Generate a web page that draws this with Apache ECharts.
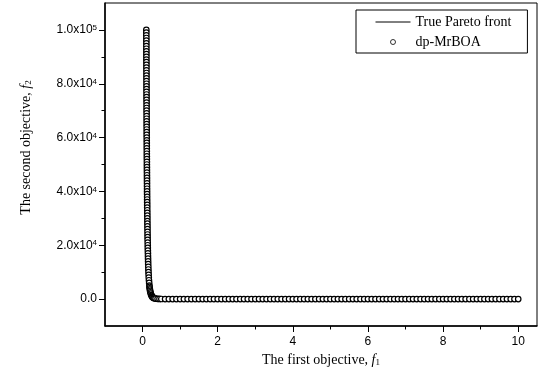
<!DOCTYPE html>
<html>
<head>
<meta charset="utf-8">
<script src="https://cdn.jsdelivr.net/npm/echarts@6/dist/echarts.min.js"></script>
<style>
  html, body { margin: 0; padding: 0; background: #fff; }
  #chart { width: 545px; height: 381px; }
</style>
</head>
<body>
<div id="chart"></div>
<script>
// True Pareto front (drawn as a line)
const paretoF1 = [0.1, 0.105, 0.11, 0.115, 0.12, 0.13, 0.14, 0.15, 0.16, 0.18, 0.2, 0.22, 0.25, 0.3, 0.4, 0.6, 1, 2, 10];
const paretoF2 = [100000, 78000, 62000, 50000, 40000, 27000, 19000, 13000, 9500, 5300, 3100, 1900, 1000, 400, 100, 13, 1, 0, 0];

// dp-MrBOA solutions, steep branch near f1 = 0.1
const steepF1 = [
  0.100, 0.100, 0.100, 0.101, 0.101, 0.101, 0.101, 0.101, 0.102, 0.102,
  0.102, 0.102, 0.103, 0.103, 0.103, 0.103, 0.104, 0.104, 0.104, 0.104,
  0.105, 0.105, 0.105, 0.105, 0.106, 0.106, 0.106, 0.107, 0.107, 0.107,
  0.107, 0.108, 0.108, 0.108, 0.109, 0.109, 0.109, 0.110, 0.110, 0.110,
  0.111, 0.111, 0.112, 0.112, 0.112, 0.113, 0.113, 0.114, 0.114, 0.115,
  0.115, 0.116, 0.116, 0.117, 0.117, 0.118, 0.118, 0.119, 0.119, 0.120,
  0.120, 0.121, 0.122, 0.122, 0.123, 0.124, 0.124, 0.125, 0.126, 0.127,
  0.128, 0.128, 0.129, 0.130, 0.131, 0.132, 0.133, 0.134, 0.135, 0.137,
  0.138, 0.139, 0.141, 0.143, 0.144, 0.146, 0.148, 0.150, 0.153, 0.155,
  0.158, 0.162, 0.165, 0.170, 0.176, 0.182, 0.186, 0.191, 0.196, 0.202,
  0.209, 0.219, 0.232, 0.242, 0.256, 0.270, 0.288, 0.302, 0.319, 0.347];
const steepF2 = [
  100000, 99000, 98000, 97000, 96000, 95000, 94000, 93000, 92000, 91000,
  90000, 89000, 88000, 87000, 86000, 85000, 84000, 83000, 82000, 81000,
  80000, 79000, 78000, 77000, 76000, 75000, 74000, 73000, 72000, 71000,
  70000, 69000, 68000, 67000, 66000, 65000, 64000, 63000, 62000, 61000,
  60000, 59000, 58000, 57000, 56000, 55000, 54000, 53000, 52000, 51000,
  50000, 49000, 48000, 47000, 46000, 45000, 44000, 43000, 42000, 41000,
  40000, 39000, 38000, 37000, 36000, 35000, 34000, 33000, 32000, 31000,
  30000, 29000, 28000, 27000, 26000, 25000, 24000, 23000, 22000, 21000,
  20000, 19000, 18000, 17000, 16000, 15000, 14000, 13000, 12000, 11000,
  10000, 9000, 8000, 7000, 6000, 5000, 4500, 4000, 3500, 3000,
  2500, 2000, 1500, 1200, 900, 700, 500, 400, 300, 200];

// dp-MrBOA solutions, flat branch
const flatF1 = [0.4, 0.45, 0.5, 0.6, 0.7, 0.8, 0.9, 1.0,
  1.1, 1.2, 1.3, 1.4, 1.5, 1.6, 1.7, 1.8, 1.9, 2.0,
  2.1, 2.2, 2.3, 2.4, 2.5, 2.6, 2.7, 2.8, 2.9, 3.0,
  3.1, 3.2, 3.3, 3.4, 3.5, 3.6, 3.7, 3.8, 3.9, 4.0,
  4.1, 4.2, 4.3, 4.4, 4.5, 4.6, 4.7, 4.8, 4.9, 5.0,
  5.1, 5.2, 5.3, 5.4, 5.5, 5.6, 5.7, 5.8, 5.9, 6.0,
  6.1, 6.2, 6.3, 6.4, 6.5, 6.6, 6.7, 6.8, 6.9, 7.0,
  7.1, 7.2, 7.3, 7.4, 7.5, 7.6, 7.7, 7.8, 7.9, 8.0,
  8.1, 8.2, 8.3, 8.4, 8.5, 8.6, 8.7, 8.8, 8.9, 9.0,
  9.1, 9.2, 9.3, 9.4, 9.5, 9.6, 9.7, 9.8, 9.9, 10.0];
const flatF2 = [100, 55, 30, 13, 6, 3, 2, 1,
  0, 0, 0, 0, 0, 0, 0, 0, 0, 0,
  0, 0, 0, 0, 0, 0, 0, 0, 0, 0,
  0, 0, 0, 0, 0, 0, 0, 0, 0, 0,
  0, 0, 0, 0, 0, 0, 0, 0, 0, 0,
  0, 0, 0, 0, 0, 0, 0, 0, 0, 0,
  0, 0, 0, 0, 0, 0, 0, 0, 0, 0,
  0, 0, 0, 0, 0, 0, 0, 0, 0, 0,
  0, 0, 0, 0, 0, 0, 0, 0, 0, 0,
  0, 0, 0, 0, 0, 0, 0, 0, 0, 0];

const xMajor = [0, 2, 4, 6, 8, 10];
const xMinor = [1, 3, 5, 7, 9];
const yMajor = [0, 20000, 40000, 60000, 80000, 100000];
const yMinor = [10000, 30000, 50000, 70000, 90000];

const zip = (a, b) => a.map((v, i) => [v, b[i]]);
const paretoData = zip(paretoF1, paretoF2);
const mrboaData = zip(steepF1, steepF2).concat(zip(flatF1, flatF2));

const serif = 'Liberation Serif';
const sans = 'Liberation Sans';

const chart = echarts.init(document.getElementById('chart'));

const nameStyle = {
  fontFamily: serif, fontSize: 14, color: '#000',
  rich: {
    i: { fontFamily: serif, fontSize: 14, fontStyle: 'italic', color: '#000' },
    sub: { fontFamily: serif, fontSize: 9, color: '#000', verticalAlign: 'bottom' }
  }
};

chart.setOption({
  animation: false,
  grid: {
    left: 105, right: 8, top: 3, bottom: 55,
    show: true, borderColor: '#000', borderWidth: 1
  },
  legend: {
    orient: 'vertical',
    left: 356, top: 10,
    padding: [4, 16, 3, 19],
    itemWidth: 35, itemHeight: 5, itemGap: 4,
    borderColor: '#000', borderWidth: 1,
    selectedMode: false,
    textStyle: { fontFamily: serif, fontSize: 14, color: '#000', lineHeight: 16 },
    data: [
      { name: 'True Pareto front', itemStyle: { opacity: 0 }, lineStyle: { width: 1, color: '#000' } },
      { name: 'dp-MrBOA', icon: 'circle', itemStyle: { color: '#fff', borderColor: '#000', borderWidth: 0.8 } }
    ]
  },
  xAxis: [{
    type: 'value', min: -1, max: 10.5, position: 'bottom',
    name: 'The first objective, {i|f}{sub|1}',
    nameLocation: 'middle', nameGap: 23,
    nameTextStyle: nameStyle,
    axisLine: { show: true, onZero: false, lineStyle: { color: '#000', width: 1.5 } },
    axisTick: { show: true, inside: false, length: 6, customValues: xMajor, lineStyle: { color: '#000', width: 1 } },
    axisLabel: { customValues: xMajor, fontFamily: sans, fontSize: 12, color: '#000', margin: 10 },
    splitLine: { show: false }
  }, {
    type: 'value', min: -1, max: 10.5, position: 'bottom', offset: 0,
    axisLine: { show: false, onZero: false },
    axisTick: { show: true, inside: false, length: 3.5, customValues: xMinor, lineStyle: { color: '#000', width: 1 } },
    axisLabel: { show: false },
    splitLine: { show: false }
  }],
  yAxis: [{
    type: 'value', min: -10000, max: 110000, position: 'left',
    name: 'The second objective, {i|f}{sub|2}',
    nameLocation: 'middle', nameGap: 72,
    nameTextStyle: Object.assign({ padding: [0, 0, 0, 34] }, nameStyle),
    axisLine: { show: true, onZero: false, lineStyle: { color: '#000', width: 1.5 } },
    axisTick: { show: true, inside: false, length: 6, customValues: yMajor, lineStyle: { color: '#000', width: 1 } },
    axisLabel: {
      customValues: yMajor, fontFamily: sans, fontSize: 12, color: '#000', margin: 8,
      formatter: v => {
        if (v === 0) return '0.0';
        const e = Math.floor(Math.log10(v) + 1e-9);
        return (v / Math.pow(10, e)).toFixed(1) + 'x10{sup|' + e + '}';
      },
      rich: {
        sup: { fontFamily: sans, fontSize: 8, color: '#000', verticalAlign: 'top', padding: [0, 0, 3, 0] }
      }
    },
    splitLine: { show: false }
  }, {
    type: 'value', min: -10000, max: 110000, position: 'left', offset: 0,
    axisLine: { show: false, onZero: false },
    axisTick: { show: true, inside: false, length: 3.5, customValues: yMinor, lineStyle: { color: '#000', width: 1 } },
    axisLabel: { show: false },
    splitLine: { show: false }
  }],
  series: [{
    name: 'True Pareto front',
    type: 'line',
    xAxisIndex: 0, yAxisIndex: 0,
    data: paretoData,
    symbol: 'none',
    lineStyle: { color: '#000', width: 1 },
    itemStyle: { color: '#000' },
    z: 2
  }, {
    name: 'dp-MrBOA',
    type: 'scatter',
    xAxisIndex: 0, yAxisIndex: 0,
    data: mrboaData,
    symbol: 'circle',
    symbolSize: 5.5,
    itemStyle: { color: '#fff', borderColor: '#000', borderWidth: 1.2, opacity: 1 },
    z: 3
  }]
});
</script>
</body>
</html>
